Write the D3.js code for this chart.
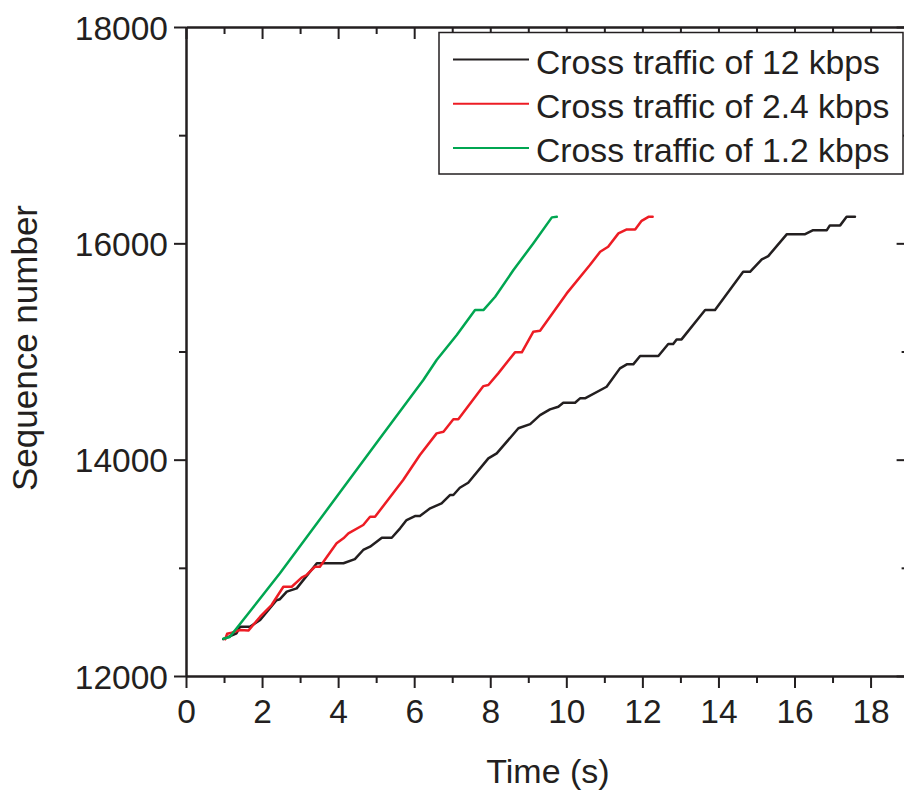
<!DOCTYPE html>
<html>
<head>
<meta charset="utf-8">
<script src="https://cdn.jsdelivr.net/npm/d3@7"></script>
<style>
  html, body { margin: 0; padding: 0; background: #fff; }
  svg { display: block; }
  text { font-family: "Liberation Sans", Arial, Helvetica, sans-serif; fill: #231f20; }
</style>
</head>
<body>
<svg id="chart" width="904" height="794"></svg>
<script>
// Sequence number vs. time for three cross-traffic rates: [time (s), sequence number]
const seq12kbps = [
  [0.98,12340],[1.33,12395],[1.42,12456],[1.68,12456],[1.95,12518],[2.38,12700],[2.47,12710],
  [2.65,12780],[2.91,12810],[3.44,13042],[4.14,13042],[4.44,13080],[4.66,13165],[4.84,13195],
  [5.15,13278],[5.41,13278],[5.63,13365],[5.80,13442],[6.02,13479],[6.15,13479],[6.42,13550],
  [6.72,13596],[6.94,13673],[7.03,13673],[7.20,13740],[7.42,13787],[7.95,14012],[8.17,14058],
  [8.74,14290],[9.05,14329],[9.31,14412],[9.57,14465],[9.79,14489],[9.92,14526],[10.23,14526],
  [10.36,14567],[10.49,14567],[11.06,14674],[11.41,14844],[11.59,14881],[11.76,14881],[11.94,14958],
  [12.42,14958],[12.68,15069],[12.81,15069],[12.90,15112],[13.03,15112],[13.65,15383],[13.91,15383],
  [14.65,15737],[14.83,15737],[15.14,15851],[15.31,15882],[15.80,16085],[16.28,16085],[16.49,16122],
  [16.85,16122],[16.93,16166],[17.20,16166],[17.37,16245],[17.59,16245]
];
const seq2p4kbps = [
  [1.03,12340],[1.08,12390],[1.20,12400],[1.42,12425],[1.64,12420],[1.95,12548],[2.25,12656],
  [2.56,12825],[2.78,12825],[3.04,12909],[3.17,12934],[3.39,13010],[3.52,13010],[3.96,13227],
  [4.14,13273],[4.27,13319],[4.66,13396],[4.84,13472],[4.97,13472],[5.71,13812],[6.15,14043],
  [6.59,14243],[6.77,14258],[7.03,14373],[7.16,14373],[7.82,14680],[7.95,14690],[8.21,14798],
  [8.65,14992],[8.83,14992],[9.13,15182],[9.31,15192],[10.01,15537],[10.62,15799],[10.89,15922],
  [11.10,15968],[11.37,16092],[11.59,16129],[11.81,16129],[11.98,16208],[12.16,16245],[12.27,16245]
];
const seq1p2kbps = [
  [0.98,12345],[1.15,12360],[1.42,12480],[2.47,12950],[5.10,14197],[6.24,14736],[6.59,14921],
  [7.12,15152],[7.60,15383],[7.82,15383],[8.13,15506],[8.61,15753],[9.13,15999],[9.62,16240],
  [9.75,16245]
];

const seriesLabels = ["Cross traffic of 12 kbps", "Cross traffic of 2.4 kbps", "Cross traffic of 1.2 kbps"];
const seriesColors = ["#231f20", "#ed1c24", "#00a651"];
const seriesData = [seq12kbps, seq2p4kbps, seq1p2kbps];

const xMajorTicks = [0, 2, 4, 6, 8, 10, 12, 14, 16, 18];
const xMinorTicks = [1, 3, 5, 7, 9, 11, 13, 15, 17, 19];
const yMajorTicks = [12000, 14000, 16000, 18000];
const yMinorTicks = [13000, 15000, 17000];
const xTitle = "Time (s)";
const yTitle = "Sequence number";

const svg = d3.select("#chart");
const ink = "#231f20";
const plot = { left: 186, top: 27, right: 908.6, bottom: 676 };

const x = d3.scaleLinear().domain([0, 19]).range([plot.left, plot.right]);
const y = d3.scaleLinear().domain([12000, 18000]).range([plot.bottom, plot.top]);

function styleAxis(g, showLabels, fontSize) {
  g.select(".domain").attr("stroke", ink).attr("stroke-width", 2);
  g.selectAll(".tick line").attr("stroke", ink).attr("stroke-width", 2);
  if (showLabels) {
    g.selectAll(".tick text").attr("fill", ink).attr("font-size", fontSize)
      .attr("font-family", '"Liberation Sans", Arial, sans-serif');
  } else {
    g.selectAll(".tick text").remove();
  }
}

// Bottom axis
svg.append("g").attr("transform", `translate(0,${plot.bottom})`)
  .call(d3.axisBottom(x).tickValues(xMinorTicks).tickSizeInner(7).tickSizeOuter(0))
  .call(g => styleAxis(g, false));
svg.append("g").attr("transform", `translate(0,${plot.bottom})`)
  .call(d3.axisBottom(x).tickValues(xMajorTicks).tickSizeInner(12).tickSizeOuter(0).tickPadding(11).tickFormat(d3.format("d")))
  .call(g => styleAxis(g, true, 33.5));

// Top axis (inward ticks)
svg.append("g").attr("transform", `translate(0,${plot.top})`)
  .call(d3.axisTop(x).tickValues(xMinorTicks).tickSizeInner(-7).tickSizeOuter(0))
  .call(g => styleAxis(g, false));
svg.append("g").attr("transform", `translate(0,${plot.top})`)
  .call(d3.axisTop(x).tickValues(xMajorTicks).tickSizeInner(-12).tickSizeOuter(0))
  .call(g => styleAxis(g, false));

// Left axis
svg.append("g").attr("transform", `translate(${plot.left},0)`)
  .call(d3.axisLeft(y).tickValues(yMinorTicks).tickSizeInner(7).tickSizeOuter(0))
  .call(g => styleAxis(g, false));
svg.append("g").attr("transform", `translate(${plot.left},0)`)
  .call(d3.axisLeft(y).tickValues(yMajorTicks).tickSizeInner(12).tickSizeOuter(0).tickPadding(6).tickFormat(d3.format("d")))
  .call(g => styleAxis(g, true, 33.5))
  .call(g => g.selectAll(".tick text").attr("dy", "0.36em"));

// Right axis (inward ticks)
svg.append("g").attr("transform", `translate(${plot.right},0)`)
  .call(d3.axisRight(y).tickValues(yMinorTicks).tickSizeInner(-7).tickSizeOuter(0))
  .call(g => styleAxis(g, false));
svg.append("g").attr("transform", `translate(${plot.right},0)`)
  .call(d3.axisRight(y).tickValues(yMajorTicks).tickSizeInner(-12).tickSizeOuter(0))
  .call(g => styleAxis(g, false));

// Series lines
const line = d3.line().x(d => x(d[0])).y(d => y(d[1]));
seriesData.forEach((data, i) => {
  svg.append("path")
    .datum(data)
    .attr("fill", "none")
    .attr("stroke", seriesColors[i])
    .attr("stroke-width", 2.5)
    .attr("stroke-linejoin", "round")
    .attr("stroke-linecap", "round")
    .attr("d", line);
});

// Legend
const legend = svg.append("g");
legend.append("rect")
  .attr("x", 439).attr("y", 32.5).attr("width", 464).attr("height", 141.5)
  .attr("fill", "#fff").attr("stroke", ink).attr("stroke-width", 1.5);
seriesLabels.forEach((label, i) => {
  const rowY = 59.5 + i * 44.3;
  legend.append("line")
    .attr("x1", 453).attr("x2", 529).attr("y1", rowY).attr("y2", rowY)
    .attr("stroke", seriesColors[i]).attr("stroke-width", 2);
  legend.append("text")
    .attr("x", 536).attr("y", rowY + 14)
    .attr("font-size", 33.7)
    .text(label);
});

// Axis titles
svg.append("text")
  .attr("x", 548).attr("y", 783)
  .attr("text-anchor", "middle")
  .attr("font-size", 34)
  .text(xTitle);
svg.append("text")
  .attr("transform", "translate(37,348) rotate(-90)")
  .attr("text-anchor", "middle")
  .attr("font-size", 35)
  .text(yTitle);
</script>
</body>
</html>
